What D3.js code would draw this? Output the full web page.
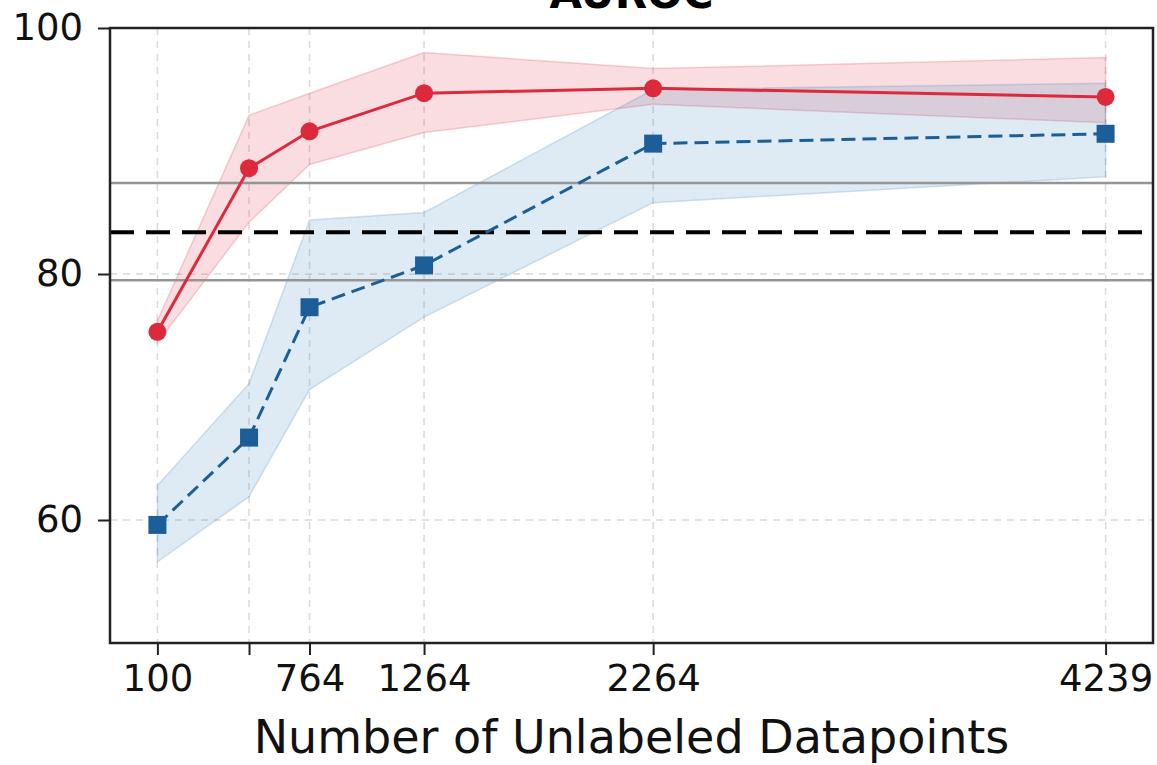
<!DOCTYPE html>
<html>
<head>
<meta charset="utf-8">
<script src="https://cdn.jsdelivr.net/npm/d3@7"></script>
<style>
  body { margin: 0; background: #fff; }
  svg text { font-family: "DejaVu Sans", sans-serif; }
</style>
</head>
<body>
<svg id="chart" width="1157" height="765"></svg>
<script>
// data
let xValues = [100, 500, 764, 1264, 2264, 4239];
let xTickLabels = ['100', '', '764', '1264', '2264', '4239'];
let yTicks = [60, 80, 100];

let redMean = [75.3, 88.6, 91.6, 94.7, 95.1, 94.4];
let redLow = [74.4, 84.2, 88.9, 91.5, 93.8, 92.3];
let redHigh = [76.2, 92.9, 94.7, 98.0, 96.7, 97.6];

let blueMean = [59.6, 66.7, 77.3, 80.7, 90.6, 91.4];
let blueLow = [56.6, 61.9, 70.6, 76.5, 85.8, 87.9];
let blueHigh = [62.8, 71.1, 84.4, 85.0, 95.0, 95.5];

let grayRefs = [87.4, 79.5];
let blackRef = 83.4;

let svg = d3.select('#chart');
let pad = {t: 28, r: 4, b: 122, l: 110};
let W = +svg.attr('width'), H = +svg.attr('height');
let cw = W - pad.l - pad.r;
let ch = H - pad.t - pad.b;

let span = 4239 - 100;
let x = d3.scaleLinear().domain([100 - span * 0.05, 4239 + span * 0.05]).range([0, cw]);
let y = d3.scaleLinear().domain([50, 100]).range([ch, 0]);

let g = svg.append('g').attr('transform', `translate(${pad.l},${pad.t})`);

let redColor = '#dc2a3c';
let blueColor = '#1c5f98';

// grid
g.selectAll('.vgrid').data(xValues).enter().append('line')
    .attr('x1', d => x(d)).attr('x2', d => x(d))
    .attr('y1', 0).attr('y2', ch)
    .attr('stroke', '#d9d9d9').attr('stroke-width', 1.5)
    .attr('stroke-dasharray', '7,6');
g.selectAll('.hgrid').data(yTicks).enter().append('line')
    .attr('x1', 0).attr('x2', cw)
    .attr('y1', d => y(d)).attr('y2', d => y(d))
    .attr('stroke', '#d9d9d9').attr('stroke-width', 1.5)
    .attr('stroke-dasharray', '7,6');

// bands
function band(low, high, color){
    let area = d3.area()
        .x((d, i) => x(xValues[i]))
        .y0((d, i) => y(low[i]))
        .y1((d, i) => y(high[i]));
    g.append('path').datum(low)
        .attr('d', area)
        .attr('fill', color).attr('fill-opacity', 0.16)
        .attr('stroke', color).attr('stroke-opacity', 0.2).attr('stroke-width', 1.5);
}
band(redLow, redHigh, redColor);
band(blueLow, blueHigh, '#2f7bb8');

// reference lines
g.selectAll('.gref').data(grayRefs).enter().append('line')
    .attr('x1', 0).attr('x2', cw)
    .attr('y1', d => y(d)).attr('y2', d => y(d))
    .attr('stroke', '#959595').attr('stroke-width', 2.5);
g.append('line')
    .attr('x1', 0).attr('x2', cw)
    .attr('y1', y(blackRef)).attr('y2', y(blackRef))
    .attr('stroke', '#000').attr('stroke-width', 4)
    .attr('stroke-dasharray', '24,12');

// lines
let line = d3.line().x((d, i) => x(xValues[i])).y(d => y(d));
g.append('path').datum(redMean)
    .attr('d', line).attr('fill', 'none')
    .attr('stroke', redColor).attr('stroke-width', 3);
g.append('path').datum(blueMean)
    .attr('d', line).attr('fill', 'none')
    .attr('stroke', blueColor).attr('stroke-width', 3)
    .attr('stroke-dasharray', '14,7');

// markers
g.selectAll('.rdot').data(redMean).enter().append('circle')
    .attr('cx', (d, i) => x(xValues[i])).attr('cy', d => y(d))
    .attr('r', 9).attr('fill', redColor);
g.selectAll('.bsq').data(blueMean).enter().append('rect')
    .attr('x', (d, i) => x(xValues[i]) - 9).attr('y', d => y(d) - 9)
    .attr('width', 18).attr('height', 18).attr('fill', blueColor);

// axes
let xAxis = d3.axisBottom(x).tickValues(xValues)
    .tickFormat((d, i) => xTickLabels[i]).tickSize(12).tickPadding(10);
let yAxis = d3.axisLeft(y).tickValues(yTicks).tickSize(12).tickPadding(15);

let xg = g.append('g').attr('transform', `translate(0,${ch})`).call(xAxis);
let yg = g.append('g').call(yAxis);
[xg, yg].forEach(a => {
    a.attr('font-family', null);
    a.select('.domain').remove();
    a.selectAll('line').attr('stroke', '#222').attr('stroke-width', 2);
    a.selectAll('text').attr('fill', '#111').style('font-size', '37px');
});

// frame
g.append('rect').attr('x', 0).attr('y', 0).attr('width', cw).attr('height', ch)
    .attr('fill', 'none').attr('stroke', '#222').attr('stroke-width', 2.5);

// labels
svg.append('text')
    .attr('x', pad.l + cw / 2).attr('y', 753)
    .attr('text-anchor', 'middle')
    .style('font-size', '46px').attr('fill', '#111')
    .text('Number of Unlabeled Datapoints');
svg.append('text')
    .attr('x', pad.l + cw / 2).attr('y', 8)
    .attr('text-anchor', 'middle')
    .style('font-size', '42px').style('font-weight', 'bold')
    .text('AUROC');
</script>
</body>
</html>
